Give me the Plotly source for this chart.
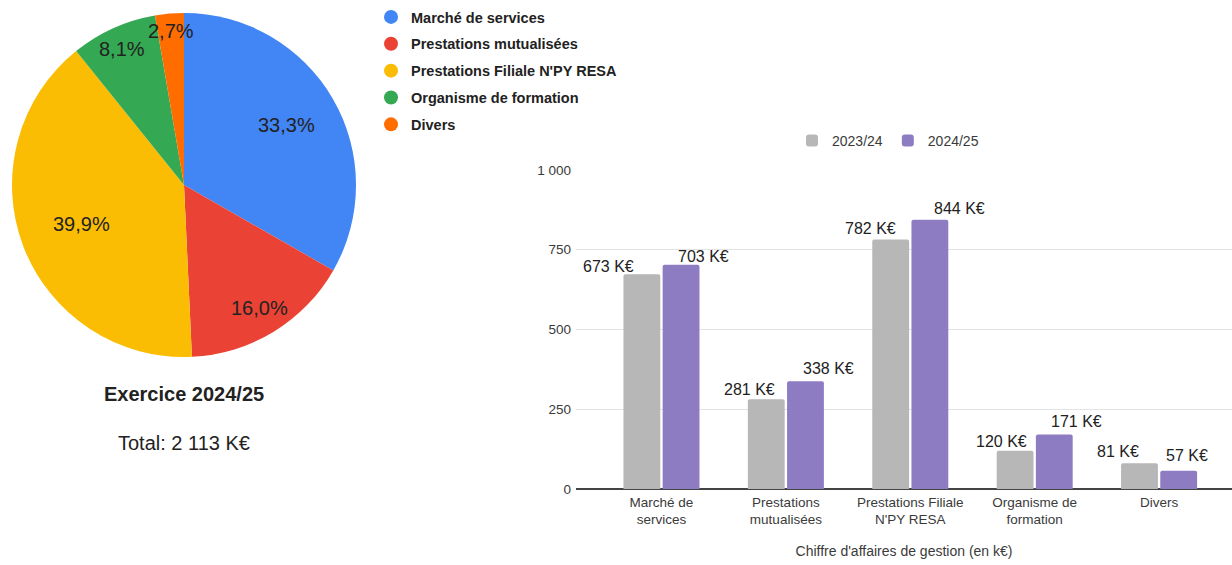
import math
import plotly.graph_objects as go

# Revenue categories and yearly figures (in K€)
categories = [
    "Marché de services",
    "Prestations mutualisées",
    "Prestations Filiale N'PY RESA",
    "Organisme de formation",
    "Divers",
]
tick_labels = [
    "Marché de<br>services",
    "Prestations<br>mutualisées",
    "Prestations Filiale<br>N'PY RESA",
    "Organisme de<br>formation",
    "Divers",
]
years = ["2023/24", "2024/25"]
values_2023_24 = [673, 281, 782, 120, 81]
values_2024_25 = [703, 338, 844, 171, 57]

# Styling
pie_colors = ["#4285F4", "#EA4335", "#FBBC04", "#34A853", "#FF6D01"]
bar_colors = ["#B7B7B7", "#8E7CC3"]
FONT = "Liberation Sans, Arial, sans-serif"
TEXT = "#222222"
AXIS_TEXT = "#3A3A3A"
W, H = 1232, 565

# Pie placement (px) and radial position of each percentage label (fraction of radius)
PIE_CX, PIE_CY, PIE_R = 184, 185, 172
pie_label_radius = [0.69, 0.84, 0.64, 0.87, 0.90]

# Horizontal / vertical nudges (px) of the value labels from their category centre
label_dx = [[-53, -36, -40, -33, -41], [42, 43, 49, 42, 28]]
label_dy = [[8, 10, 11, 9, 12], [8, 13, 11, 13, 15]]

fig = go.Figure()

# Pie of the latest year (clockwise from 12 o'clock)
fig.add_trace(go.Pie(
    labels=categories,
    values=values_2024_25,
    sort=False,
    direction="clockwise",
    rotation=0,
    marker=dict(colors=pie_colors, line=dict(width=0)),
    textinfo="none",
    showlegend=False,
    hoverinfo="label+value+percent",
    domain=dict(x=[(PIE_CX - PIE_R) / W, (PIE_CX + PIE_R) / W],
                y=[1 - (PIE_CY + PIE_R) / H, 1 - (PIE_CY - PIE_R) / H]),
))

# Percentage labels at each slice's mid-angle
total = sum(values_2024_25)
cum = 0
for v, rf in zip(values_2024_25, pie_label_radius):
    mid = (cum + v / 2) / total * 2 * math.pi
    cum += v
    px = PIE_CX + PIE_R * rf * math.sin(mid)
    py = PIE_CY - PIE_R * rf * math.cos(mid)
    fig.add_annotation(
        x=px / W, y=1 - py / H, xref="paper", yref="paper",
        text=f"{v / total * 100:.1f}%".replace(".", ","),
        showarrow=False, xanchor="center", yanchor="middle",
        font=dict(family=FONT, size=20, color=TEXT),
    )

# Grouped bars for both years
for i, (yr, vals) in enumerate(zip(years, [values_2023_24, values_2024_25])):
    fig.add_trace(go.Bar(
        x=categories, y=vals, name=yr,
        marker=dict(color=bar_colors[i], line=dict(width=0)),
        legend="legend2",
    ))
    for j, (cat, v) in enumerate(zip(categories, vals)):
        fig.add_annotation(
            x=cat, y=v, xref="x", yref="y",
            text=f"{v} K€", showarrow=False,
            xanchor="center", yanchor="middle",
            xshift=label_dx[i][j], yshift=label_dy[i][j],
            font=dict(family=FONT, size=16, color=TEXT),
        )

# Round legend markers for the pie categories
for name, col in zip(categories, pie_colors):
    fig.add_trace(go.Scatter(
        x=[None], y=[None], mode="markers", name=name,
        marker=dict(symbol="circle", size=14, color=col),
        legend="legend", legendgroup=name, hoverinfo="skip",
    ))

total_txt = f"{total:,}".replace(",", " ")
fig.add_annotation(
    x=PIE_CX / W, y=1 - 394 / H, xref="paper", yref="paper",
    text="<b>Exercice 2024/25</b>", showarrow=False,
    xanchor="center", yanchor="middle",
    font=dict(family=FONT, size=20, color=TEXT),
)
fig.add_annotation(
    x=PIE_CX / W, y=1 - 443 / H, xref="paper", yref="paper",
    text=f"Total: {total_txt} K€", showarrow=False,
    xanchor="center", yanchor="middle",
    font=dict(family=FONT, size=20, color=TEXT),
)

fig.update_layout(
    width=W, height=H,
    margin=dict(l=0, r=0, t=0, b=0, autoexpand=False),
    paper_bgcolor="white", plot_bgcolor="white",
    font=dict(family=FONT, color=TEXT),
    separators=", ",
    barmode="group", bargap=0.37, bargroupgap=0.06,
    barcornerradius=2,
    legend=dict(
        x=371 / W, y=1 - 1 / H, xanchor="left", yanchor="top",
        orientation="v", tracegroupgap=5,
        font=dict(family=FONT, size=14.5, color=TEXT, weight="bold"),
        bgcolor="rgba(0,0,0,0)",
    ),
    legend2=dict(
        x=792 / W, y=1 - 125 / H, xanchor="left", yanchor="top",
        orientation="h",
        font=dict(family=FONT, size=14, color=AXIS_TEXT),
        bgcolor="rgba(0,0,0,0)",
    ),
    xaxis=dict(
        type="category",
        domain=[576 / W, 1],
        range=[-0.687, 4.586],
        tickmode="array", tickvals=categories, ticktext=tick_labels,
        tickfont=dict(family=FONT, size=13.5, color=AXIS_TEXT),
        ticklabelstandoff=3,
        showgrid=False, showline=False, ticks="",
        title=dict(text="Chiffre d'affaires de gestion (en k€)",
                   font=dict(family=FONT, size=14, color=AXIS_TEXT),
                   standoff=20),
        automargin=False,
        fixedrange=True,
    ),
    yaxis=dict(
        domain=[1 - 489 / H, 1 - 170 / H],
        range=[0, 1000],
        tickvals=[0, 250, 500, 750, 1000],
        separatethousands=True,
        tickfont=dict(family=FONT, size=13.5, color=AXIS_TEXT),
        showgrid=True, gridcolor="#E3E3E3", gridwidth=1,
        zeroline=True, zerolinecolor="#444444", zerolinewidth=1.5,
        ticks="", ticklabelstandoff=4,
        automargin=False,
        fixedrange=True,
    ),
)

fig.write_html("out.html")
